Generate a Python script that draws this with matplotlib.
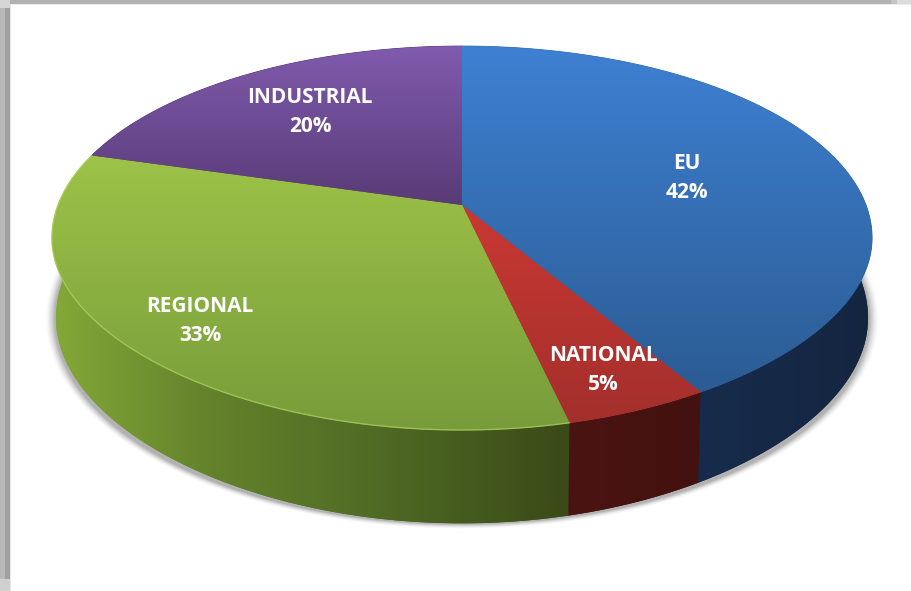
import numpy as np
import matplotlib
matplotlib.use("Agg")
import matplotlib.pyplot as plt
from matplotlib.path import Path
from matplotlib.patches import PathPatch, Rectangle

# Funding shares
labels = ["EU", "NATIONAL", "REGIONAL", "INDUSTRIAL"]
values = [42, 5, 33, 20]

# Top-face colours at the back and the front of the disc
top_back = ["#3e80d2", "#e63e37", "#acd24e", "#805aad"]
top_front = ["#29588c", "#a22f2c", "#789c3a", "#210f28"]
# Side-wall colours, left to right: (x, colour)
side_stops = [
    [(695, "#172c4c"), (870, "#142540")],
    [(568, "#4a1412"), (700, "#43110f")],
    [(55, "#84a838"), (200, "#65842c"), (380, "#4f6a24"), (568, "#3a4a18")],
    [(52, "#3a2a55"), (462, "#3a2a55")],
]
label_xy = [(687, 178), (603, 370), (200, 321), (310, 112)]

W, H = 912, 591
fig = plt.figure(figsize=(W / 100, H / 100), dpi=100, facecolor="white")
ax = fig.add_axes([0, 0, 1, 1])
ax.set_xlim(0, W)
ax.set_ylim(H, 0)
ax.axis("off")


def disc_point(theta, cx, cy, a, b, k=0.172):
    """Perspective view of a disc; theta is clockwise from 12 o'clock."""
    skew = 2.5 * (1 - np.cos(theta)) / 2 + 1.0 * np.maximum(-np.sin(theta), 0)
    t = theta - np.radians(skew)
    u, v = np.sin(t), -np.cos(t)
    d = 1 - k * v
    # The front of the rim is drawn in slightly narrower than a true ellipse
    narrow = 1 - 0.056 * np.maximum(v - k, 0) ** 2
    return cx + a * u * narrow / d, cy + b * v / d


TOP = dict(cx=462, cy=205, a=404, b=186.3)
BOTTOM = dict(cx=462, cy=283, a=400, b=199)


def to_rgb(c):
    return np.array(matplotlib.colors.to_rgb(c))


def gradient_fill(img, extent, verts, zorder):
    patch = PathPatch(Path(verts), transform=ax.transData, fc="none", ec="none")
    ax.add_patch(patch)
    im = ax.imshow(img, extent=extent, aspect="auto", interpolation="bilinear",
                   zorder=zorder)
    im.set_clip_path(patch)
    return im


# Window frame along the top and left edges
ax.add_patch(Rectangle((0, 0), W, 4, fc="#b2b2b2", ec="none", zorder=1))
ax.add_patch(Rectangle((0, 4), W, 1, fc="#ececec", ec="none", zorder=1))
ax.add_patch(Rectangle((0, 0), 5, H, fc="#b8b8b8", ec="none", zorder=1))
ax.add_patch(Rectangle((5, 4), 5, H, fc="#a0a0a0", ec="none", zorder=1))
ax.add_patch(Rectangle((10, 4), 1, H, fc="#e6e6e6", ec="none", zorder=1))
ax.add_patch(Rectangle((0, 0), 10, 8, fc="#d6d6d6", ec="none", zorder=1.1))
ax.add_patch(Rectangle((0, H - 12), 10, 12, fc="#d0d0d0", ec="none", zorder=1.1))
ax.add_patch(Rectangle((891, 0), 6, 4, fc="#c4c4c4", ec="none", zorder=1.1))
ax.add_patch(Rectangle((897, 0), 15, 4, fc="#dcdcdc", ec="none", zorder=1.1))

# Soft drop shadow under the wall
yy, xx = np.mgrid[0:H, 0:W] + 0.5
rad = np.hypot((xx - 462) / 409, (yy - 319) / 206)
shadow = np.zeros((H, W, 4))
shadow[..., :3] = 0.4
shadow[..., 3] = 0.5 * np.clip((1.02 - rad) / 0.024, 0, 1) ** 1.6
ax.imshow(shadow, extent=(0, W, H, 0), aspect="auto", zorder=2,
          interpolation="bilinear")
ax.set_xlim(0, W)
ax.set_ylim(H, 0)

edges = np.radians(np.cumsum([0] + values) * 3.6)

# Side walls, then the top face over them
for i in range(len(values)):
    th = np.linspace(edges[i], edges[i + 1], 200)
    tx, ty = disc_point(th, **TOP)
    bx, by = disc_point(th, **BOTTOM)
    wall = np.column_stack([np.r_[tx, bx[::-1]], np.r_[ty, by[::-1]]])
    wall = np.vstack([wall, wall[0]])
    xs = np.arange(0, W) + 0.5
    px = [p[0] for p in side_stops[i]]
    cols = np.array([to_rgb(p[1]) for p in side_stops[i]])
    row = np.stack([np.interp(xs, px, cols[:, c]) for c in range(3)], axis=1)
    gradient_fill(row[None, :, :], (0, W, H, 0), wall, 3)
    # Floor of the disc fills the silhouette where the wall curls under
    floor = np.vstack([[BOTTOM["cx"], BOTTOM["cy"]], np.column_stack([bx, by]),
                       [BOTTOM["cx"], BOTTOM["cy"]]])
    gradient_fill(row[None, :, :], (0, W, H, 0), floor, 2.5)

for i in range(len(values)):
    th = np.linspace(edges[i], edges[i + 1], 300)
    tx, ty = disc_point(th, **TOP)
    face = np.vstack([[TOP["cx"], TOP["cy"]], np.column_stack([tx, ty]),
                      [TOP["cx"], TOP["cy"]]])
    f = np.linspace(0, 1, 128)[:, None]
    col = (1 - f) * to_rgb(top_back[i]) + f * to_rgb(top_front[i])
    ax.plot(face[:, 0], face[:, 1],
            color=np.mean([to_rgb(top_back[i]), to_rgb(top_front[i])], axis=0),
            lw=0.6, zorder=4, solid_joinstyle="round")
    gradient_fill(col[:, None, :], (0, W, 430, 46), face, 5)

# Pale rim on the green wall's upper edge
th = np.linspace(edges[2], edges[3], 300)
tx, ty = disc_point(th, **TOP)
ax.plot(tx, ty, color="#b5d768", lw=1.0, alpha=0.6, zorder=6)
ax.set_xlim(0, W)
ax.set_ylim(H, 0)

for name, val, (x, y) in zip(labels, values, label_xy):
    ax.text(x, y, f"{name}\n{val}%", color="white", fontsize=15,
            fontweight="bold", family="Open Sans", ha="center", va="center",
            linespacing=1.5, zorder=8)

fig.savefig("out.png", dpi=100, facecolor="white")
